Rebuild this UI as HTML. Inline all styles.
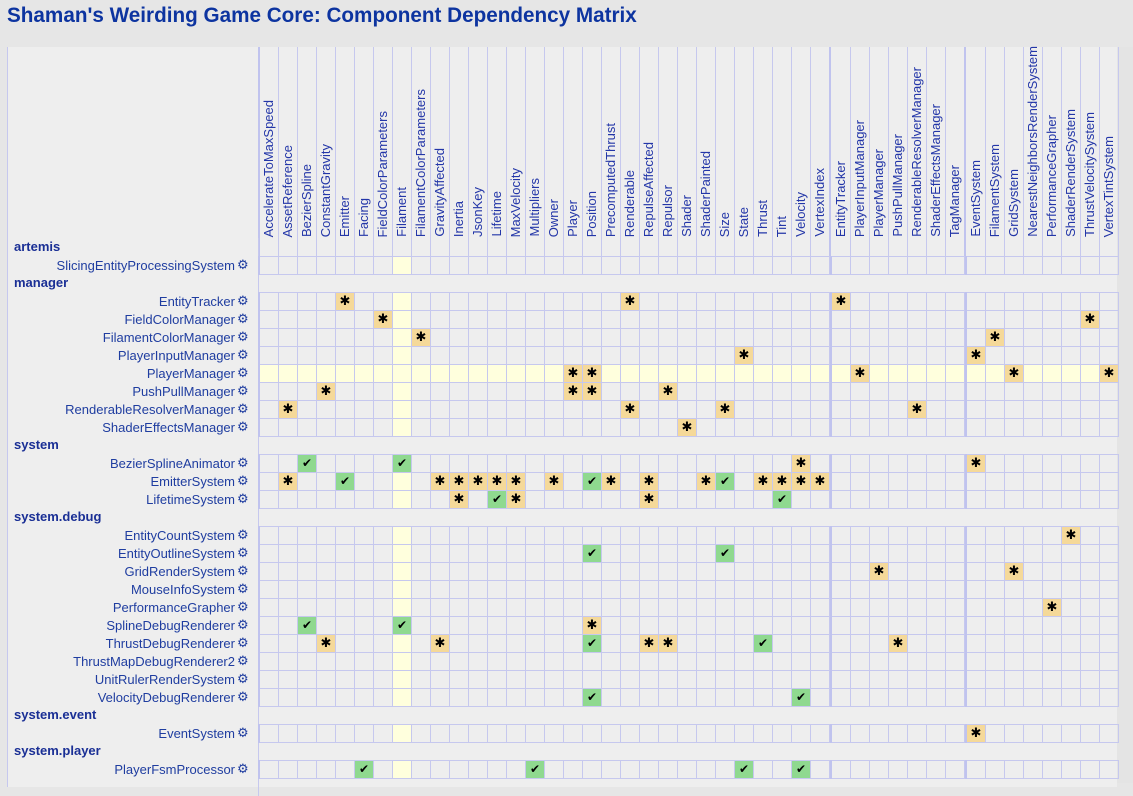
<!DOCTYPE html>
<html><head><meta charset="utf-8"><style>
*{margin:0;padding:0;box-sizing:border-box}
html,body{width:1133px;height:783px;overflow:hidden;background:#e6e6e6;font-family:"Liberation Sans",Arial,sans-serif}
#t{position:absolute;left:7px;top:4px;font-size:21px;font-weight:bold;color:#0d34a0;white-space:nowrap;transform-origin:0 0;transform:scaleX(0.985)}
#m{position:absolute;left:7px;top:47px;width:1110px;height:740px;background:#eeeeee;border-left:1px solid #c6c8ee}
.hd{position:absolute;top:47px;height:209px;width:1px;background:#c6c8ee}
.th{position:absolute;top:47px;height:209px;width:2px;background:#c0c3ee}
.h{position:absolute;bottom:546px;writing-mode:vertical-rl;transform:rotate(180deg);font-size:13px;color:#2336a8;white-space:nowrap;line-height:15px;width:15px}
.r{position:absolute;left:0;height:19px;width:1133px}
.r b{position:absolute;top:0;height:19px;background-image:repeating-linear-gradient(to right,transparent 0 18px,#c6c8ee 18px 19px);background-position:2px 0;box-shadow:inset 2px 0 #c0c3ee,inset 0 1px #c6c8ee,inset 0 -1px #c6c8ee}
.r b.a{left:258px;width:572px;background-image:repeating-linear-gradient(to right,transparent 0 18px,#c6c8ee 18px 19px),linear-gradient(to right,transparent 135px,#ffffdd 135px 153px,transparent 153px);background-position:2px 0,0 0}
.r b.b{left:830px;width:135px}
.r b.c{left:965px;width:154px}
.r.y b{background-color:#ffffdd}
.l{position:absolute;right:898px;font-size:13px;color:#1f3da0;white-space:nowrap;line-height:19px;top:0}
.g{position:absolute;left:237px;top:0;font-size:13px;line-height:19px;color:#1f3da0;font-family:"DejaVu Sans",sans-serif}
.s{position:absolute;left:14px;font-size:13px;font-weight:bold;color:#1a2f95;line-height:18px}
.sl{position:absolute;left:258px;width:1px;height:18px;background:#c6c8ee}
i{position:absolute;width:18px;height:17px;font-style:normal;text-align:center;line-height:17px;font-size:13px;color:#000;font-family:"DejaVu Sans",sans-serif}
i.o{background:#f5d999}
i.k{background:#8fd98f;font-size:12px}
#sb{position:absolute;left:1117px;top:47px;width:16px;height:736px;background:#e4e4e4}
</style></head><body>
<div id="t">Shaman's Weirding Game Core: Component Dependency Matrix</div>
<div id="m"></div>
<div id="sb"></div>

<div class="th" style="left:258px"></div><div class="th" style="left:829px"></div><div class="th" style="left:964px"></div>
<div class="hd" style="left:278px"></div><div class="hd" style="left:297px"></div><div class="hd" style="left:316px"></div><div class="hd" style="left:335px"></div><div class="hd" style="left:354px"></div><div class="hd" style="left:373px"></div><div class="hd" style="left:392px"></div><div class="hd" style="left:411px"></div><div class="hd" style="left:430px"></div><div class="hd" style="left:449px"></div><div class="hd" style="left:468px"></div><div class="hd" style="left:487px"></div><div class="hd" style="left:506px"></div><div class="hd" style="left:525px"></div><div class="hd" style="left:544px"></div><div class="hd" style="left:563px"></div><div class="hd" style="left:582px"></div><div class="hd" style="left:601px"></div><div class="hd" style="left:620px"></div><div class="hd" style="left:639px"></div><div class="hd" style="left:658px"></div><div class="hd" style="left:677px"></div><div class="hd" style="left:696px"></div><div class="hd" style="left:715px"></div><div class="hd" style="left:734px"></div><div class="hd" style="left:753px"></div><div class="hd" style="left:772px"></div><div class="hd" style="left:791px"></div><div class="hd" style="left:810px"></div>
<div class="hd" style="left:850px"></div><div class="hd" style="left:869px"></div><div class="hd" style="left:888px"></div><div class="hd" style="left:907px"></div><div class="hd" style="left:926px"></div><div class="hd" style="left:945px"></div>
<div class="hd" style="left:985px"></div><div class="hd" style="left:1004px"></div><div class="hd" style="left:1023px"></div><div class="hd" style="left:1042px"></div><div class="hd" style="left:1061px"></div><div class="hd" style="left:1080px"></div><div class="hd" style="left:1099px"></div><div class="hd" style="left:1118px"></div>

<div class="h" style="left:261px">AccelerateToMaxSpeed</div>
<div class="h" style="left:280px">AssetReference</div>
<div class="h" style="left:299px">BezierSpline</div>
<div class="h" style="left:318px">ConstantGravity</div>
<div class="h" style="left:337px">Emitter</div>
<div class="h" style="left:356px">Facing</div>
<div class="h" style="left:375px">FieldColorParameters</div>
<div class="h" style="left:394px">Filament</div>
<div class="h" style="left:413px">FilamentColorParameters</div>
<div class="h" style="left:432px">GravityAffected</div>
<div class="h" style="left:451px">Inertia</div>
<div class="h" style="left:470px">JsonKey</div>
<div class="h" style="left:489px">Lifetime</div>
<div class="h" style="left:508px">MaxVelocity</div>
<div class="h" style="left:527px">Multipliers</div>
<div class="h" style="left:546px">Owner</div>
<div class="h" style="left:565px">Player</div>
<div class="h" style="left:584px">Position</div>
<div class="h" style="left:603px">PrecomputedThrust</div>
<div class="h" style="left:622px">Renderable</div>
<div class="h" style="left:641px">RepulseAffected</div>
<div class="h" style="left:660px">Repulsor</div>
<div class="h" style="left:679px">Shader</div>
<div class="h" style="left:698px">ShaderPainted</div>
<div class="h" style="left:717px">Size</div>
<div class="h" style="left:736px">State</div>
<div class="h" style="left:755px">Thrust</div>
<div class="h" style="left:774px">Tint</div>
<div class="h" style="left:793px">Velocity</div>
<div class="h" style="left:812px">VertexIndex</div>
<div class="h" style="left:833px">EntityTracker</div>
<div class="h" style="left:852px">PlayerInputManager</div>
<div class="h" style="left:871px">PlayerManager</div>
<div class="h" style="left:890px">PushPullManager</div>
<div class="h" style="left:909px">RenderableResolverManager</div>
<div class="h" style="left:928px">ShaderEffectsManager</div>
<div class="h" style="left:947px">TagManager</div>
<div class="h" style="left:968px">EventSystem</div>
<div class="h" style="left:987px">FilamentSystem</div>
<div class="h" style="left:1006px">GridSystem</div>
<div class="h" style="left:1025px">NearestNeighborsRenderSystem</div>
<div class="h" style="left:1044px">PerformanceGrapher</div>
<div class="h" style="left:1063px">ShaderRenderSystem</div>
<div class="h" style="left:1082px">ThrustVelocitySystem</div>
<div class="h" style="left:1101px">VertexTintSystem</div>

<div class="s" style="top:238px">artemis</div><div class="sl" style="top:238px"></div>
<div class="s" style="top:274px">manager</div><div class="sl" style="top:274px"></div>
<div class="s" style="top:436px">system</div><div class="sl" style="top:436px"></div>
<div class="s" style="top:508px">system.debug</div><div class="sl" style="top:508px"></div>
<div class="s" style="top:706px">system.event</div><div class="sl" style="top:706px"></div>
<div class="s" style="top:742px">system.player</div><div class="sl" style="top:742px"></div>
<div class="sl" style="top:778px"></div>

<div class="r" style="top:256px"><b class="a"></b><b class="b"></b><b class="c"></b><span class="l">SlicingEntityProcessingSystem</span><span class="g">⚙</span></div>
<div class="r" style="top:292px"><b class="a"></b><b class="b"></b><b class="c"></b><span class="l">EntityTracker</span><span class="g">⚙</span></div>
<div class="r" style="top:310px"><b class="a"></b><b class="b"></b><b class="c"></b><span class="l">FieldColorManager</span><span class="g">⚙</span></div>
<div class="r" style="top:328px"><b class="a"></b><b class="b"></b><b class="c"></b><span class="l">FilamentColorManager</span><span class="g">⚙</span></div>
<div class="r" style="top:346px"><b class="a"></b><b class="b"></b><b class="c"></b><span class="l">PlayerInputManager</span><span class="g">⚙</span></div>
<div class="r y" style="top:364px"><b class="a"></b><b class="b"></b><b class="c"></b><span class="l">PlayerManager</span><span class="g">⚙</span></div>
<div class="r" style="top:382px"><b class="a"></b><b class="b"></b><b class="c"></b><span class="l">PushPullManager</span><span class="g">⚙</span></div>
<div class="r" style="top:400px"><b class="a"></b><b class="b"></b><b class="c"></b><span class="l">RenderableResolverManager</span><span class="g">⚙</span></div>
<div class="r" style="top:418px"><b class="a"></b><b class="b"></b><b class="c"></b><span class="l">ShaderEffectsManager</span><span class="g">⚙</span></div>
<div class="r" style="top:454px"><b class="a"></b><b class="b"></b><b class="c"></b><span class="l">BezierSplineAnimator</span><span class="g">⚙</span></div>
<div class="r" style="top:472px"><b class="a"></b><b class="b"></b><b class="c"></b><span class="l">EmitterSystem</span><span class="g">⚙</span></div>
<div class="r" style="top:490px"><b class="a"></b><b class="b"></b><b class="c"></b><span class="l">LifetimeSystem</span><span class="g">⚙</span></div>
<div class="r" style="top:526px"><b class="a"></b><b class="b"></b><b class="c"></b><span class="l">EntityCountSystem</span><span class="g">⚙</span></div>
<div class="r" style="top:544px"><b class="a"></b><b class="b"></b><b class="c"></b><span class="l">EntityOutlineSystem</span><span class="g">⚙</span></div>
<div class="r" style="top:562px"><b class="a"></b><b class="b"></b><b class="c"></b><span class="l">GridRenderSystem</span><span class="g">⚙</span></div>
<div class="r" style="top:580px"><b class="a"></b><b class="b"></b><b class="c"></b><span class="l">MouseInfoSystem</span><span class="g">⚙</span></div>
<div class="r" style="top:598px"><b class="a"></b><b class="b"></b><b class="c"></b><span class="l">PerformanceGrapher</span><span class="g">⚙</span></div>
<div class="r" style="top:616px"><b class="a"></b><b class="b"></b><b class="c"></b><span class="l">SplineDebugRenderer</span><span class="g">⚙</span></div>
<div class="r" style="top:634px"><b class="a"></b><b class="b"></b><b class="c"></b><span class="l">ThrustDebugRenderer</span><span class="g">⚙</span></div>
<div class="r" style="top:652px"><b class="a"></b><b class="b"></b><b class="c"></b><span class="l">ThrustMapDebugRenderer2</span><span class="g">⚙</span></div>
<div class="r" style="top:670px"><b class="a"></b><b class="b"></b><b class="c"></b><span class="l">UnitRulerRenderSystem</span><span class="g">⚙</span></div>
<div class="r" style="top:688px"><b class="a"></b><b class="b"></b><b class="c"></b><span class="l">VelocityDebugRenderer</span><span class="g">⚙</span></div>
<div class="r" style="top:724px"><b class="a"></b><b class="b"></b><b class="c"></b><span class="l">EventSystem</span><span class="g">⚙</span></div>
<div class="r" style="top:760px"><b class="a"></b><b class="b"></b><b class="c"></b><span class="l">PlayerFsmProcessor</span><span class="g">⚙</span></div>

<i class="o" style="left:336px;top:293px">✱</i><i class="o" style="left:621px;top:293px">✱</i><i class="o" style="left:832px;top:293px">✱</i>
<i class="o" style="left:374px;top:311px">✱</i><i class="o" style="left:1081px;top:311px">✱</i>
<i class="o" style="left:412px;top:329px">✱</i><i class="o" style="left:986px;top:329px">✱</i>
<i class="o" style="left:735px;top:347px">✱</i><i class="o" style="left:967px;top:347px">✱</i>
<i class="o" style="left:564px;top:365px">✱</i><i class="o" style="left:583px;top:365px">✱</i><i class="o" style="left:851px;top:365px">✱</i><i class="o" style="left:1005px;top:365px">✱</i><i class="o" style="left:1100px;top:365px">✱</i>
<i class="o" style="left:317px;top:383px">✱</i><i class="o" style="left:564px;top:383px">✱</i><i class="o" style="left:583px;top:383px">✱</i><i class="o" style="left:659px;top:383px">✱</i>
<i class="o" style="left:279px;top:401px">✱</i><i class="o" style="left:621px;top:401px">✱</i><i class="o" style="left:716px;top:401px">✱</i><i class="o" style="left:908px;top:401px">✱</i>
<i class="o" style="left:678px;top:419px">✱</i>
<i class="k" style="left:298px;top:455px">✔</i><i class="k" style="left:393px;top:455px">✔</i><i class="o" style="left:792px;top:455px">✱</i><i class="o" style="left:967px;top:455px">✱</i>
<i class="o" style="left:279px;top:473px">✱</i><i class="k" style="left:336px;top:473px">✔</i><i class="o" style="left:431px;top:473px">✱</i><i class="o" style="left:450px;top:473px">✱</i><i class="o" style="left:469px;top:473px">✱</i><i class="o" style="left:488px;top:473px">✱</i><i class="o" style="left:507px;top:473px">✱</i><i class="o" style="left:545px;top:473px">✱</i><i class="k" style="left:583px;top:473px">✔</i><i class="o" style="left:602px;top:473px">✱</i><i class="o" style="left:640px;top:473px">✱</i><i class="o" style="left:697px;top:473px">✱</i><i class="k" style="left:716px;top:473px">✔</i><i class="o" style="left:754px;top:473px">✱</i><i class="o" style="left:773px;top:473px">✱</i><i class="o" style="left:792px;top:473px">✱</i><i class="o" style="left:811px;top:473px">✱</i>
<i class="o" style="left:450px;top:491px">✱</i><i class="k" style="left:488px;top:491px">✔</i><i class="o" style="left:507px;top:491px">✱</i><i class="o" style="left:640px;top:491px">✱</i><i class="k" style="left:773px;top:491px">✔</i>
<i class="o" style="left:1062px;top:527px">✱</i>
<i class="k" style="left:583px;top:545px">✔</i><i class="k" style="left:716px;top:545px">✔</i>
<i class="o" style="left:870px;top:563px">✱</i><i class="o" style="left:1005px;top:563px">✱</i>
<i class="o" style="left:1043px;top:599px">✱</i>
<i class="k" style="left:298px;top:617px">✔</i><i class="k" style="left:393px;top:617px">✔</i><i class="o" style="left:583px;top:617px">✱</i>
<i class="o" style="left:317px;top:635px">✱</i><i class="o" style="left:431px;top:635px">✱</i><i class="k" style="left:583px;top:635px">✔</i><i class="o" style="left:640px;top:635px">✱</i><i class="o" style="left:659px;top:635px">✱</i><i class="k" style="left:754px;top:635px">✔</i><i class="o" style="left:889px;top:635px">✱</i>
<i class="k" style="left:583px;top:689px">✔</i><i class="k" style="left:792px;top:689px">✔</i>
<i class="o" style="left:967px;top:725px">✱</i>
<i class="k" style="left:355px;top:761px">✔</i><i class="k" style="left:526px;top:761px">✔</i><i class="k" style="left:735px;top:761px">✔</i><i class="k" style="left:792px;top:761px">✔</i>
</body></html>
